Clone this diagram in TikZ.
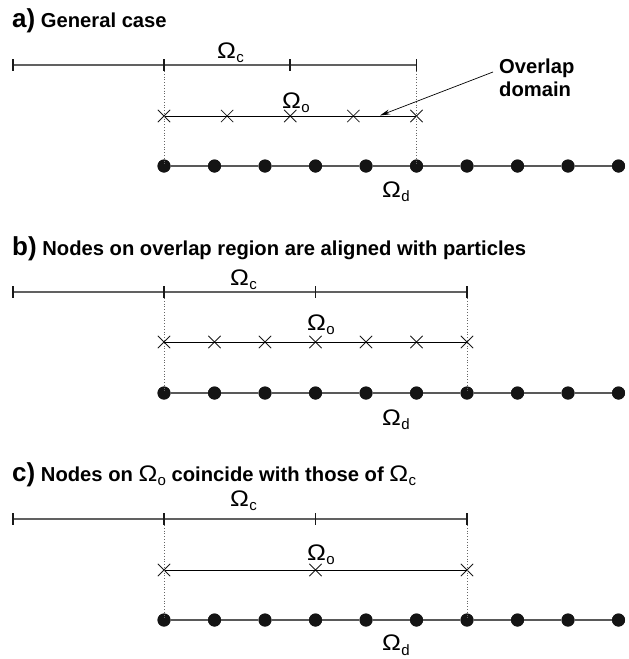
\documentclass[tikz,border=0pt]{standalone}
\usepackage{fontspec}
\setmainfont{Liberation Sans}
\usetikzlibrary{shapes.misc,arrows.meta}
\newcommand\Om[1]{{\mdseries\fontsize{22.5}{22.5}\selectfont\scalebox{1.12}[1]{Ω}}\kern0.3pt\raisebox{-4.5pt}{\mdseries\fontsize{15}{15}\selectfont #1}}
\newcommand\pl[1]{{\fontsize{26}{26}\selectfont #1}}
\tikzset{
  topline/.style={draw=black!62, line width=1.3pt},
  tickmark/.style={draw=black!90, line width=1.8pt},
  xline/.style={draw=black, line width=0.9pt},
  dline/.style={draw=black!65, line width=2pt},
  guide/.style={draw=black!60, line width=0.8pt, dotted},
  xnode/.style={cross out, draw=black!90, line width=0.8pt, minimum size=11.5pt, inner sep=0pt},
  dot/.style={circle, fill=black!92, minimum size=13pt, inner sep=0pt},
  lab/.style={anchor=base west, inner sep=0pt},
  ttl/.style={anchor=base west, inner sep=0pt, font=\fontsize{20.2}{23}\selectfont\bfseries},
  pointer/.style={draw=black, line width=0.7pt, -{Stealth[length=10pt,width=5pt]}},
}
\begin{document}
\begin{tikzpicture}[x=1pt,y=-1pt]
\useasboundingbox (0,0) rectangle (629,659);

% ---------------- panel a ----------------
\node[ttl] (ta) at (12,27) {\pl{a)} General case};
\foreach \i/\x in {0/13,1/164,2/290.25,3/416.5} {
  \coordinate (at\i) at (\x,65);
}
\draw[topline] (at0) -- (at3);
\foreach \i in {0,...,3} {
  \draw[tickmark] ([yshift=6pt]at\i) -- ([yshift=-6pt]at\i);
}
\node[lab] (aOc) at (217,58) {\Om{c}};
\foreach \i/\x in {0/164,1/227.125,2/290.25,3/353.375,4/416.5} {
  \node[xnode] (ax\i) at (\x,116) {};
}
\draw[xline] (ax0.center) -- (ax4.center);
\node[lab] (aOo) at (282,108) {\Om{o}};
\foreach \i in {0,...,9} {
  \node[dot] (ad\i) at (164+50.5*\i,166) {};
}
\draw[dline] (ad0) -- (ad1) -- (ad2) -- (ad3) -- (ad4) -- (ad5) -- (ad6) -- (ad7) -- (ad8) -- (ad9);
\foreach \i in {0,...,9} { \node[dot] at (ad\i) {}; }
\node[lab] (aOd) at (382,197) {\Om{d}};
\draw[guide] ([yshift=-6pt]at1) -- (ax0.center) -- (ad0.center);
\draw[guide] ([yshift=-6pt]at3) -- (ax4.center) -- (ad5.center);
\node[ttl] (ov1) at (499,73) {Overlap};
\node[ttl] (ov2) at (499,96) {domain};
\coordinate (arrS) at (493,72);
\coordinate (arrE) at (380,115.5);
\draw[pointer] (arrS) -- (arrE);

% ---------------- panel b ----------------
\node[ttl] (tb) at (12,255) {\pl{b)} Nodes on overlap region are aligned with particles};
\foreach \i/\x in {0/13,1/164,2/315.5,3/467} {
  \coordinate (bt\i) at (\x,292);
}
\draw[topline] (bt0) -- (bt3);
\foreach \i in {0,...,3} {
  \draw[tickmark] ([yshift=6pt]bt\i) -- ([yshift=-6pt]bt\i);
}
\node[lab] (bOc) at (230,285) {\Om{c}};
\foreach \i in {0,...,6} {
  \node[xnode] (bx\i) at (164+50.5*\i,342) {};
}
\draw[xline] (bx0.center) -- (bx6.center);
\node[lab] (bOo) at (307,330) {\Om{o}};
\foreach \i in {0,...,9} {
  \node[dot] (bd\i) at (164+50.5*\i,393) {};
}
\draw[dline] (bd0) -- (bd1) -- (bd2) -- (bd3) -- (bd4) -- (bd5) -- (bd6) -- (bd7) -- (bd8) -- (bd9);
\foreach \i in {0,...,9} { \node[dot] at (bd\i) {}; }
\node[lab] (bOd) at (382,425) {\Om{d}};
\draw[guide] ([yshift=-6pt]bt1) -- (bx0.center) -- (bd0.center);
\draw[guide] ([yshift=-6pt]bt3) -- (bx6.center) -- (bd6.center);

% ---------------- panel c ----------------
\node[ttl] (tc) at (12,481) {\pl{c)} Nodes on \Om{o} coincide with those of \Om{c}};
\foreach \i/\x in {0/13,1/164,2/315.5,3/467} {
  \coordinate (ct\i) at (\x,519);
}
\draw[topline] (ct0) -- (ct3);
\foreach \i in {0,...,3} {
  \draw[tickmark] ([yshift=6pt]ct\i) -- ([yshift=-6pt]ct\i);
}
\node[lab] (cOc) at (230,506) {\Om{c}};
\foreach \i/\x in {0/164,1/315.5,2/467} {
  \node[xnode] (cx\i) at (\x,570) {};
}
\draw[xline] (cx0.center) -- (cx2.center);
\node[lab] (cOo) at (307,560) {\Om{o}};
\foreach \i in {0,...,9} {
  \node[dot] (cd\i) at (164+50.5*\i,620) {};
}
\draw[dline] (cd0) -- (cd1) -- (cd2) -- (cd3) -- (cd4) -- (cd5) -- (cd6) -- (cd7) -- (cd8) -- (cd9);
\foreach \i in {0,...,9} { \node[dot] at (cd\i) {}; }
\node[lab] (cOd) at (382,650.5) {\Om{d}};
\draw[guide] ([yshift=-6pt]ct1) -- (cx0.center) -- (cd0.center);
\draw[guide] ([yshift=-6pt]ct3) -- (cx2.center) -- (cd6.center);
\end{tikzpicture}
\end{document}
